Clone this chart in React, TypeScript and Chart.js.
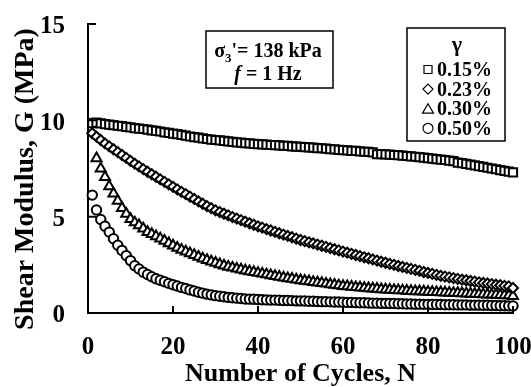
import React, { useEffect, useRef } from "react";
import { Chart, registerables } from "chart.js";

Chart.register(...registerables);

// Number of cycles N (x values)
const cycles: number[] = Array.from({ length: 100 }, (_, i) => i + 1);

// Shear modulus G (MPa)
const g015: number[] = [
  9.85, 9.88, 9.84, 9.80, 9.78, 9.75, 9.72, 9.70, 9.66, 9.63,
  9.60, 9.57, 9.55, 9.52, 9.48, 9.45, 9.42, 9.38, 9.35, 9.31,
  9.28, 9.24, 9.21, 9.16, 9.13, 9.10, 9.06, 9.03, 9.00, 8.98,
  8.96, 8.93, 8.91, 8.88, 8.86, 8.84, 8.82, 8.80, 8.78, 8.77,
  8.75, 8.74, 8.72, 8.71, 8.70, 8.68, 8.67, 8.65, 8.64, 8.63,
  8.61, 8.60, 8.58, 8.56, 8.55, 8.53, 8.51, 8.49, 8.47, 8.45,
  8.44, 8.42, 8.41, 8.39, 8.37, 8.36, 8.34, 8.24, 8.25, 8.23,
  8.22, 8.20, 8.19, 8.17, 8.15, 8.13, 8.11, 8.09, 8.06, 8.04,
  8.01, 7.99, 7.96, 7.94, 7.91, 7.88, 7.80, 7.78, 7.74, 7.70,
  7.66, 7.62, 7.58, 7.54, 7.50, 7.46, 7.42, 7.38, 7.34, 7.30,
];

const g023: number[] = [
  9.33, 9.15, 8.98, 8.80, 8.65, 8.50, 8.35, 8.20, 8.05, 7.90,
  7.75, 7.61, 7.47, 7.33, 7.20, 7.07, 6.94, 6.81, 6.68, 6.55,
  6.42, 6.29, 6.17, 6.04, 5.92, 5.79, 5.67, 5.55, 5.44, 5.33,
  5.24, 5.15, 5.07, 4.98, 4.90, 4.82, 4.74, 4.66, 4.58, 4.50,
  4.43, 4.35, 4.28, 4.21, 4.14, 4.07, 4.00, 3.93, 3.86, 3.79,
  3.73, 3.67, 3.61, 3.55, 3.49, 3.43, 3.37, 3.31, 3.25, 3.19,
  3.13, 3.07, 3.01, 2.95, 2.89, 2.84, 2.78, 2.72, 2.66, 2.61,
  2.55, 2.50, 2.44, 2.39, 2.34, 2.29, 2.24, 2.19, 2.13, 2.08,
  2.03, 1.98, 1.93, 1.89, 1.85, 1.81, 1.77, 1.73, 1.70, 1.66,
  1.63, 1.59, 1.56, 1.53, 1.50, 1.47, 1.44, 1.41, 1.38, 1.30,
];

const g030: (number | null)[] = [
  null, 8.03, 7.50, 7.05, 6.58, 6.20, 5.82, 5.45, 5.15, 4.88,
  4.70, 4.55, 4.38, 4.20, 4.10, 3.98, 3.86, 3.75, 3.62, 3.50,
  3.38, 3.28, 3.19, 3.10, 3.01, 2.92, 2.83, 2.75, 2.67, 2.60,
  2.53, 2.46, 2.40, 2.35, 2.30, 2.25, 2.20, 2.16, 2.12, 2.08,
  2.04, 2.00, 1.96, 1.92, 1.88, 1.84, 1.80, 1.77, 1.74, 1.70,
  1.67, 1.64, 1.61, 1.58, 1.55, 1.52, 1.49, 1.46, 1.43, 1.40,
  1.38, 1.36, 1.34, 1.32, 1.30, 1.28, 1.27, 1.25, 1.23, 1.22,
  1.20, 1.19, 1.18, 1.17, 1.15, 1.14, 1.13, 1.12, 1.11, 1.10,
  1.09, 1.08, 1.07, 1.06, 1.05, 1.04, 1.03, 1.02, 1.01, 1.00,
  0.99, 0.98, 0.97, 0.96, 0.95, 0.94, 0.93, 0.92, 0.91, 0.88,
];

const g050: number[] = [
  6.12, 5.35, 4.85, 4.50, 4.20, 3.85, 3.52, 3.25, 2.98, 2.72,
  2.45, 2.28, 2.12, 2.00, 1.88, 1.78, 1.70, 1.62, 1.54, 1.47,
  1.40, 1.33, 1.27, 1.20, 1.14, 1.08, 1.03, 0.98, 0.94, 0.90,
  0.87, 0.84, 0.81, 0.79, 0.77, 0.75, 0.73, 0.72, 0.71, 0.70,
  0.69, 0.68, 0.67, 0.67, 0.66, 0.65, 0.65, 0.64, 0.63, 0.63,
  0.62, 0.61, 0.61, 0.60, 0.59, 0.59, 0.58, 0.57, 0.57, 0.56,
  0.55, 0.55, 0.54, 0.53, 0.53, 0.52, 0.51, 0.51, 0.50, 0.50,
  0.49, 0.49, 0.48, 0.48, 0.47, 0.47, 0.46, 0.46, 0.45, 0.45,
  0.44, 0.44, 0.44, 0.43, 0.43, 0.43, 0.42, 0.42, 0.42, 0.41,
  0.41, 0.41, 0.40, 0.40, 0.39, 0.39, 0.38, 0.38, 0.37, 0.36,
];

const seriesLabels = ["0.15%", "0.23%", "0.30%", "0.50%"];
const xTicks = [0, 20, 40, 60, 80, 100];
const yTicks = [0, 5, 10, 15];

const FONT = "'Liberation Serif', 'Times New Roman', serif";

const toPoints = (vals: (number | null)[]) =>
  vals
    .map((v, i) => (v == null ? null : { x: cycles[i], y: v }))
    .filter((p) => p !== null) as { x: number; y: number }[];

function drawSymbol(ctx: CanvasRenderingContext2D, kind: string, x: number, y: number) {
  ctx.beginPath();
  if (kind === "rect") {
    ctx.rect(x - 4, y - 4, 8, 8);
  } else if (kind === "rectRot") {
    ctx.moveTo(x, y - 5);
    ctx.lineTo(x + 5, y);
    ctx.lineTo(x, y + 5);
    ctx.lineTo(x - 5, y);
    ctx.closePath();
  } else if (kind === "triangle") {
    ctx.moveTo(x, y - 5);
    ctx.lineTo(x + 5.5, y + 4.5);
    ctx.lineTo(x - 5.5, y + 4.5);
    ctx.closePath();
  } else {
    ctx.arc(x, y, 5, 0, Math.PI * 2);
  }
  ctx.stroke();
}

const innerTicks = {
  id: "innerTicks",
  afterDatasetsDraw(chart: any) {
    const { ctx, chartArea, scales } = chart;
    ctx.save();
    ctx.strokeStyle = "#000";
    ctx.lineWidth = 2;
    ctx.beginPath();
    xTicks.forEach((t) => {
      if (t === 0) return;
      const px = scales.x.getPixelForValue(t);
      ctx.moveTo(px, chartArea.bottom);
      ctx.lineTo(px, chartArea.bottom - 7);
    });
    yTicks.forEach((t) => {
      if (t === 0) return;
      const py = scales.y.getPixelForValue(t);
      ctx.moveTo(chartArea.left, py);
      ctx.lineTo(chartArea.left + 8, py);
    });
    ctx.stroke();
    ctx.restore();
  },
};

const boxes = {
  id: "boxes",
  afterDatasetsDraw(chart: any) {
    const ctx: CanvasRenderingContext2D = chart.ctx;
    ctx.save();
    ctx.lineWidth = 1.5;
    ctx.strokeStyle = "#000";
    ctx.fillStyle = "#fff";

    // Condition box
    ctx.fillRect(206, 31, 127, 57);
    ctx.strokeRect(206, 31, 127, 57);
    ctx.fillStyle = "#000";
    ctx.textBaseline = "alphabetic";
    const big = `bold 20px ${FONT}`;
    const sub = `bold 13px ${FONT}`;
    ctx.font = big;
    const wSig = ctx.measureText("σ").width;
    const rest = "'= 138 kPa";
    const wRest = ctx.measureText(rest).width;
    ctx.font = sub;
    const w3 = ctx.measureText("3").width;
    const total = wSig + w3 + wRest;
    let x0 = 268 - total / 2;
    ctx.font = big;
    ctx.fillText("σ", x0, 57);
    ctx.font = sub;
    ctx.fillText("3", x0 + wSig, 62);
    ctx.font = big;
    ctx.fillText(rest, x0 + wSig + w3, 57);

    const italic = `italic bold 20px ${FONT}`;
    ctx.font = italic;
    const wf = ctx.measureText("f").width;
    ctx.font = big;
    const l2 = " = 1 Hz";
    const wl2 = ctx.measureText(l2).width;
    x0 = 268 - (wf + wl2) / 2;
    ctx.font = italic;
    ctx.fillText("f", x0, 80);
    ctx.font = big;
    ctx.fillText(l2, x0 + wf, 80);

    // Legend box
    ctx.fillStyle = "#fff";
    ctx.fillRect(407, 28, 98, 113);
    ctx.strokeRect(407, 28, 98, 113);
    ctx.fillStyle = "#000";
    ctx.font = `bold 22px ${FONT}`;
    ctx.textAlign = "center";
    ctx.fillText("γ", 457, 51);
    ctx.font = big;
    ctx.textAlign = "left";
    const styles = ["rect", "rectRot", "triangle", "circle"];
    ctx.lineWidth = 1.2;
    seriesLabels.forEach((lab, i) => {
      const by = 76 + i * 19.6;
      drawSymbol(ctx, styles[i], 428, by - 6.5);
      ctx.fillText(lab, 437, by);
    });
    ctx.restore();
  },
};

export default function App() {
  const ref = useRef<HTMLCanvasElement | null>(null);

  useEffect(() => {
    document.body.style.margin = "0";
    if (!ref.current) return;
    const common = {
      showLine: false,
      borderColor: "#000",
      backgroundColor: "#fff",
      pointBackgroundColor: "#fff",
      pointBorderColor: "#000",
      pointBorderWidth: 2,
      clip: false as any,
    };
    const chart = new Chart(ref.current, {
      type: "scatter",
      data: {
        datasets: [
          { ...common, label: seriesLabels[0], data: toPoints(g015), pointStyle: "rect", pointRadius: 5.8 },
          { ...common, label: seriesLabels[1], data: toPoints(g023), pointStyle: "rectRot", pointRadius: 5 },
          { ...common, label: seriesLabels[2], data: toPoints(g030), pointStyle: "triangle", pointRadius: 5.8 },
          { ...common, label: seriesLabels[3], data: toPoints(g050), pointStyle: "circle", pointRadius: 4.7 },
        ],
      },
      options: {
        responsive: false,
        animation: false,
        events: [],
        layout: { padding: { left: 0, top: 24, right: 18, bottom: 0 } },
        plugins: {
          legend: { display: false },
          tooltip: { enabled: false },
        },
        scales: {
          x: {
            type: "linear",
            min: 0,
            max: 100,
            afterBuildTicks: (s: any) => {
              s.ticks = xTicks.map((v) => ({ value: v }));
            },
            afterFit: (s: any) => {
              s.height = 74;
              s.paddingLeft = 0;
              s.paddingRight = 0;
            },
            grid: { display: false, drawTicks: false },
            border: { display: true, color: "#000", width: 2 },
            ticks: {
              color: "#000",
              padding: 20,
              maxRotation: 0,
              font: { family: FONT, size: 25, weight: "bold" },
            },
            title: {
              display: true,
              text: "Number of Cycles, N",
              color: "#000",
              padding: 0,
              font: { family: FONT, size: 26, weight: "bold", lineHeight: 1 },
            },
          },
          y: {
            type: "linear",
            min: 0,
            max: 15,
            afterBuildTicks: (s: any) => {
              s.ticks = yTicks.map((v) => ({ value: v }));
            },
            afterFit: (s: any) => {
              s.width = 88;
              s.paddingTop = 0;
              s.paddingBottom = 0;
            },
            grid: { display: false, drawTicks: false },
            border: { display: true, color: "#000", width: 2 },
            ticks: {
              color: "#000",
              padding: 23,
              labelOffset: 3,
              font: { family: FONT, size: 25, weight: "bold" },
            },
            title: {
              display: true,
              text: "Shear Modulus, G (MPa)   ",
              color: "#000",
              padding: { top: 12, bottom: 0 },
              font: { family: FONT, size: 28, weight: "bold", lineHeight: 1 },
            },
          },
        },
      },
      plugins: [innerTicks, boxes],
    });
    return () => chart.destroy();
  }, []);

  return (
    <div style={{ position: "absolute", left: 0, top: 0, width: 531, height: 387 }}>
      <canvas ref={ref} width={531} height={387} />
    </div>
  );
}
